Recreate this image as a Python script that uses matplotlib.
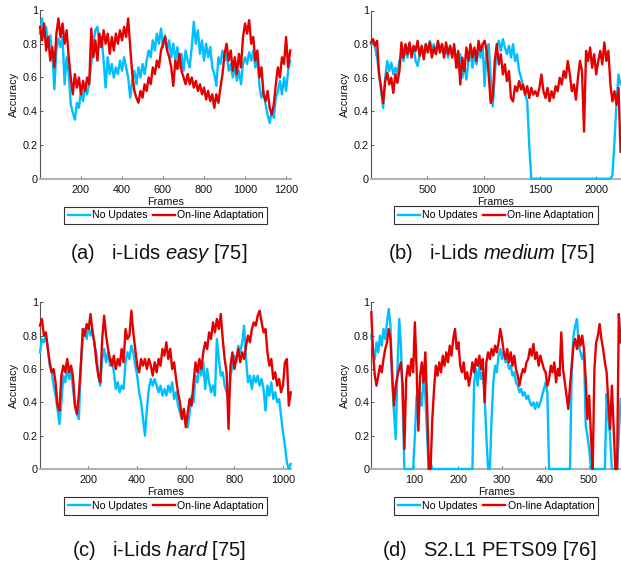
import numpy as np
import matplotlib
matplotlib.use("Agg")
import matplotlib.pyplot as plt

plt.rcParams["font.family"] = ["Liberation Sans", "DejaVu Sans"]
plt.rcParams["mathtext.fontset"] = "custom"
plt.rcParams["mathtext.rm"] = "Liberation Sans"
plt.rcParams["mathtext.it"] = "Liberation Sans:italic"
plt.rcParams["mathtext.bf"] = "Liberation Sans:bold"

# ---------------- data ----------------
SERIES_NAMES = ["No Updates", "On-line Adaptation"]
Y_TICKS = [0, 0.2, 0.4, 0.6, 0.8, 1.0]
Y_TICK_LABELS = ["0", "0.2", "0.4", "0.6", "0.8", "1"]

# (a) i-Lids easy: sampled every 10 frames, frames 1..1221
A_LAST_FRAME = 1221
A_XTICKS = [200, 400, 600, 800, 1000, 1200]
A_NO_UPDATES = [
    0.86, 0.95, 0.84, 0.90, 0.78, 0.85, 0.74, 0.53, 0.76, 0.83,
    0.78, 0.84, 0.56, 0.72, 0.62, 0.44, 0.39, 0.35, 0.45, 0.42,
    0.52, 0.46, 0.55, 0.50, 0.57, 0.68, 0.80, 0.88, 0.90, 0.78,
    0.84, 0.70, 0.54, 0.72, 0.62, 0.68, 0.60, 0.66, 0.62, 0.70,
    0.64, 0.72, 0.66, 0.60, 0.48, 0.58, 0.64, 0.56, 0.66, 0.60,
    0.68, 0.62, 0.70, 0.76, 0.72, 0.82, 0.76, 0.86, 0.80, 0.89,
    0.78, 0.85, 0.76, 0.82, 0.72, 0.80, 0.70, 0.78, 0.66, 0.74,
    0.64, 0.76, 0.70, 0.66, 0.78, 0.93, 0.80, 0.88, 0.74, 0.82,
    0.70, 0.80, 0.72, 0.78, 0.66, 0.62, 0.55, 0.72, 0.68, 0.76,
    0.70, 0.74, 0.64, 0.68, 0.60, 0.66, 0.58, 0.64, 0.56, 0.68,
    0.72, 0.68, 0.75, 0.70, 0.76, 0.66, 0.72, 0.55, 0.48, 0.52,
    0.44, 0.38, 0.33, 0.40, 0.36, 0.48, 0.52, 0.58, 0.50, 0.60,
    0.52, 0.64, 0.70,
]
A_ONLINE = [
    0.90, 0.82, 0.92, 0.76, 0.84, 0.70, 0.78, 0.66, 0.86, 0.95,
    0.84, 0.92, 0.80, 0.88, 0.72, 0.60, 0.50, 0.62, 0.54, 0.60,
    0.50, 0.58, 0.52, 0.60, 0.56, 0.89, 0.72, 0.82, 0.70, 0.86,
    0.78, 0.88, 0.80, 0.86, 0.74, 0.84, 0.76, 0.86, 0.80, 0.88,
    0.82, 0.90, 0.84, 0.95, 0.78, 0.62, 0.52, 0.48, 0.45, 0.52,
    0.48, 0.56, 0.52, 0.60, 0.56, 0.66, 0.62, 0.70, 0.66, 0.76,
    0.80, 0.84, 0.76, 0.72, 0.66, 0.55, 0.70, 0.65, 0.74, 0.64,
    0.60, 0.56, 0.62, 0.56, 0.60, 0.54, 0.58, 0.52, 0.56, 0.50,
    0.54, 0.47, 0.52, 0.46, 0.50, 0.42, 0.50, 0.45, 0.54, 0.62,
    0.74, 0.80, 0.70, 0.76, 0.64, 0.72, 0.62, 0.74, 0.66, 0.84,
    0.92, 0.86, 0.94, 0.80, 0.84, 0.70, 0.76, 0.60, 0.66, 0.50,
    0.46, 0.52, 0.42, 0.38, 0.44, 0.56, 0.66, 0.60, 0.72, 0.68,
    0.84, 0.66, 0.76,
]

# (b) i-Lids medium: sampled every 18 frames, frames 1..2215
B_LAST_FRAME = 2215
B_XTICKS = [500, 1000, 1500, 2000]
B_NO_UPDATES = [
    0.80, 0.82, 0.78, 0.72, 0.62, 0.52, 0.42, 0.60, 0.70, 0.64,
    0.69, 0.62, 0.66, 0.62, 0.70, 0.74, 0.70, 0.78, 0.72, 0.80,
    0.74, 0.78, 0.70, 0.67, 0.74, 0.78, 0.73, 0.80, 0.76, 0.82,
    0.77, 0.80, 0.75, 0.81, 0.76, 0.80, 0.74, 0.78, 0.72, 0.79,
    0.74, 0.78, 0.72, 0.66, 0.74, 0.60, 0.68, 0.59, 0.70, 0.76,
    0.66, 0.74, 0.68, 0.78, 0.72, 0.80, 0.55, 0.78, 0.80, 0.60,
    0.43, 0.62, 0.78, 0.82, 0.76, 0.83, 0.78, 0.74, 0.79, 0.72,
    0.80, 0.70, 0.74, 0.64, 0.60, 0.54, 0.50, 0.46, 0.20, 0.00,
    0.00, 0.00, 0.00, 0.00, 0.00, 0.00, 0.00, 0.00, 0.00, 0.00,
    0.00, 0.00, 0.00, 0.00, 0.00, 0.00, 0.00, 0.00, 0.00, 0.00,
    0.00, 0.00, 0.00, 0.00, 0.00, 0.00, 0.00, 0.00, 0.00, 0.00,
    0.00, 0.00, 0.00, 0.00, 0.00, 0.00, 0.00, 0.00, 0.00, 0.02,
    0.22, 0.45, 0.62, 0.56,
]
B_ONLINE = [
    0.81, 0.83, 0.79, 0.82, 0.62, 0.54, 0.45, 0.58, 0.63, 0.56,
    0.60, 0.51, 0.62, 0.57, 0.64, 0.81, 0.72, 0.80, 0.74, 0.81,
    0.72, 0.79, 0.76, 0.82, 0.73, 0.79, 0.71, 0.80, 0.75, 0.81,
    0.72, 0.78, 0.74, 0.82, 0.75, 0.80, 0.72, 0.81, 0.74, 0.79,
    0.72, 0.80, 0.66, 0.76, 0.56, 0.72, 0.64, 0.78, 0.70, 0.80,
    0.72, 0.78, 0.70, 0.82, 0.76, 0.80, 0.82, 0.76, 0.62, 0.45,
    0.48, 0.70, 0.80, 0.68, 0.74, 0.62, 0.68, 0.58, 0.64, 0.48,
    0.46, 0.55, 0.52, 0.58, 0.53, 0.56, 0.50, 0.55, 0.48, 0.54,
    0.50, 0.52, 0.49, 0.54, 0.62, 0.52, 0.48, 0.54, 0.46, 0.52,
    0.48, 0.55, 0.52, 0.60, 0.56, 0.64, 0.60, 0.70, 0.62, 0.52,
    0.56, 0.47, 0.60, 0.70, 0.64, 0.28, 0.76, 0.70, 0.78, 0.66,
    0.74, 0.62, 0.70, 0.76, 0.68, 0.81, 0.70, 0.76, 0.56, 0.46,
    0.52, 0.44, 0.54, 0.16,
]

# (c) i-Lids hard: sampled every 8 frames, frames 1..1033
C_LAST_FRAME = 1033
C_XTICKS = [200, 400, 600, 800, 1000]
C_NO_UPDATES = [
    0.70, 0.78, 0.76, 0.80, 0.74, 0.62, 0.58, 0.50, 0.44, 0.36,
    0.27, 0.40, 0.56, 0.52, 0.60, 0.54, 0.58, 0.48, 0.38, 0.33,
    0.30, 0.62, 0.78, 0.84, 0.78, 0.86, 0.80, 0.84, 0.74, 0.70,
    0.56, 0.50, 0.66, 0.72, 0.64, 0.70, 0.62, 0.66, 0.58, 0.48,
    0.52, 0.46, 0.50, 0.48, 0.64, 0.70, 0.66, 0.74, 0.70, 0.62,
    0.56, 0.46, 0.40, 0.30, 0.20, 0.36, 0.48, 0.54, 0.50, 0.54,
    0.50, 0.46, 0.50, 0.44, 0.48, 0.44, 0.50, 0.46, 0.52, 0.42,
    0.46, 0.38, 0.34, 0.30, 0.36, 0.28, 0.25, 0.34, 0.44, 0.40,
    0.56, 0.52, 0.62, 0.56, 0.64, 0.48, 0.60, 0.52, 0.46, 0.50,
    0.44, 0.78, 0.66, 0.56, 0.58, 0.50, 0.46, 0.40, 0.56, 0.62,
    0.68, 0.64, 0.74, 0.70, 0.76, 0.86, 0.66, 0.52, 0.56, 0.48,
    0.56, 0.52, 0.56, 0.50, 0.54, 0.48, 0.35, 0.50, 0.44, 0.52,
    0.42, 0.46, 0.40, 0.42, 0.32, 0.22, 0.14, 0.04, 0.00, 0.03,
]
C_ONLINE = [
    0.86, 0.90, 0.80, 0.82, 0.72, 0.64, 0.58, 0.60, 0.52, 0.38,
    0.35, 0.56, 0.62, 0.58, 0.66, 0.58, 0.62, 0.55, 0.38, 0.33,
    0.45, 0.62, 0.84, 0.80, 0.87, 0.84, 0.93, 0.82, 0.76, 0.64,
    0.56, 0.52, 0.78, 0.92, 0.80, 0.72, 0.66, 0.62, 0.68, 0.60,
    0.66, 0.62, 0.72, 0.64, 0.84, 0.78, 0.80, 0.95, 0.82, 0.72,
    0.62, 0.58, 0.66, 0.62, 0.66, 0.60, 0.66, 0.62, 0.56, 0.64,
    0.58, 0.66, 0.62, 0.72, 0.68, 0.76, 0.66, 0.72, 0.60, 0.64,
    0.54, 0.46, 0.40, 0.30, 0.36, 0.25, 0.34, 0.42, 0.38, 0.52,
    0.64, 0.58, 0.66, 0.60, 0.70, 0.76, 0.72, 0.82, 0.78, 0.88,
    0.82, 0.90, 0.84, 0.93, 0.78, 0.66, 0.58, 0.24, 0.62, 0.70,
    0.60, 0.66, 0.72, 0.64, 0.70, 0.66, 0.74, 0.80, 0.76, 0.84,
    0.88, 0.86, 0.92, 0.95, 0.88, 0.82, 0.84, 0.70, 0.62, 0.66,
    0.54, 0.58, 0.50, 0.54, 0.46, 0.50, 0.64, 0.66, 0.38, 0.46,
]

# (d) S2.L1 PETS09: sampled every 4 frames, frames 1..573
D_LAST_FRAME = 573
D_XTICKS = [100, 200, 300, 400, 500]
D_NO_UPDATES = [
    0.80, 0.72, 0.66, 0.76, 0.70, 0.80, 0.74, 0.84, 0.78, 0.88,
    0.96, 0.86, 0.52, 0.34, 0.18, 0.60, 0.90, 0.74, 0.40, 0.00,
    0.00, 0.00, 0.00, 0.00, 0.00, 0.20, 0.44, 0.28, 0.46, 0.38,
    0.56, 0.44, 0.20, 0.00, 0.04, 0.00, 0.00, 0.00, 0.00, 0.00,
    0.00, 0.00, 0.00, 0.00, 0.00, 0.00, 0.00, 0.00, 0.00, 0.00,
    0.00, 0.00, 0.00, 0.00, 0.00, 0.00, 0.00, 0.00, 0.00, 0.52,
    0.60, 0.50, 0.62, 0.54, 0.58, 0.44, 0.20, 0.00, 0.00, 0.30,
    0.52, 0.62, 0.58, 0.68, 0.72, 0.66, 0.70, 0.64, 0.66, 0.60,
    0.62, 0.56, 0.58, 0.52, 0.50, 0.46, 0.48, 0.44, 0.46, 0.42,
    0.44, 0.40, 0.38, 0.40, 0.36, 0.40, 0.37, 0.40, 0.44, 0.48,
    0.52, 0.46, 0.00, 0.00, 0.00, 0.00, 0.00, 0.00, 0.00, 0.00,
    0.00, 0.00, 0.00, 0.00, 0.00, 0.62, 0.80, 0.86, 0.90, 0.74,
    0.70, 0.66, 0.70, 0.26, 0.20, 0.12, 0.00, 0.00, 0.00, 0.00,
    0.00, 0.00, 0.00, 0.00, 0.00, 0.45, 0.30, 0.20, 0.00, 0.00,
    0.00, 0.00, 0.20, 0.42,
]
D_ONLINE = [
    0.94, 0.70, 0.56, 0.50, 0.56, 0.62, 0.58, 0.66, 0.72, 0.76,
    0.84, 0.78, 0.56, 0.38, 0.50, 0.56, 0.60, 0.64, 0.50, 0.12,
    0.54, 0.62, 0.56, 0.66, 0.58, 0.88, 0.60, 0.23, 0.56, 0.64,
    0.52, 0.70, 0.40, 0.00, 0.00, 0.30, 0.48, 0.62, 0.56, 0.64,
    0.58, 0.68, 0.62, 0.70, 0.64, 0.74, 0.68, 0.78, 0.84, 0.72,
    0.76, 0.62, 0.58, 0.64, 0.54, 0.58, 0.50, 0.56, 0.64, 0.58,
    0.66, 0.62, 0.68, 0.60, 0.66, 0.40, 0.64, 0.70, 0.66, 0.72,
    0.68, 0.74, 0.70, 0.76, 0.84, 0.78, 0.70, 0.66, 0.72, 0.64,
    0.70, 0.62, 0.68, 0.60, 0.56, 0.50, 0.56, 0.60, 0.58, 0.64,
    0.66, 0.72, 0.68, 0.75, 0.66, 0.70, 0.62, 0.68, 0.64, 0.60,
    0.58, 0.50, 0.54, 0.62, 0.58, 0.64, 0.52, 0.60, 0.56, 0.82,
    0.60, 0.52, 0.44, 0.36, 0.50, 0.62, 0.74, 0.78, 0.72, 0.80,
    0.74, 0.80, 0.72, 0.54, 0.30, 0.44, 0.20, 0.00, 0.60, 0.76,
    0.80, 0.87, 0.78, 0.72, 0.64, 0.58, 0.40, 0.24, 0.50, 0.26,
    0.00, 0.00, 0.93, 0.76,
]

CAPTION_LABELS = ["(a)", "(b)", "(c)", "(d)"]
CAPTION_TITLES = [
    r"i-Lids $\mathit{easy}$ [75]",
    r"i-Lids $\mathit{medium}$ [75]",
    r"i-Lids $\mathit{hard}$ [75]",
    "S2.L1 PETS09 [76]",
]

# ---------------- style / layout ----------------
BLUE = "#00BFFF"
RED = "#E50000"
W, H = 621, 561
SMALL = 7.8
LEGEND_SIZE = 7.6

fig = plt.figure(figsize=(W / 100, H / 100), dpi=100)
fig.patch.set_facecolor("white")


def px_rect(l, t, r, b):
    return [l / W, 1 - b / H, (r - l) / W, (b - t) / H]


panels = [
    dict(rect=(40, 10, 291, 178.7), last=A_LAST_FRAME, blue=A_NO_UPDATES,
         red=A_ONLINE, xlim=(1, 1225), xticks=A_XTICKS, leg_y=-0.2175,
         cap_x=159, cap_y=259),
    dict(rect=(371, 10.5, 621, 178.7), last=B_LAST_FRAME, blue=B_NO_UPDATES,
         red=B_ONLINE, xlim=(1, 2219), xticks=B_XTICKS, leg_y=-0.2175,
         cap_x=491, cap_y=259),
    dict(rect=(40, 302.3, 291, 469), last=C_LAST_FRAME, blue=C_NO_UPDATES,
         red=C_ONLINE, xlim=(1, 1034), xticks=C_XTICKS, leg_y=-0.223,
         cap_x=159, cap_y=556),
    dict(rect=(371.3, 302.3, 621, 469), last=D_LAST_FRAME, blue=D_NO_UPDATES,
         red=D_ONLINE, xlim=(1, 574), xticks=D_XTICKS, leg_y=-0.223,
         cap_x=489, cap_y=556),
]

for i, p in enumerate(panels):
    ax = fig.add_axes(px_rect(*p["rect"]))
    fb = np.linspace(1, p["last"], len(p["blue"]))
    fr = np.linspace(1, p["last"], len(p["red"]))
    l1, = ax.plot(fb, p["blue"], color=BLUE, lw=1.7, zorder=3, clip_on=False)
    l2, = ax.plot(fr, p["red"], color=RED, lw=1.7, zorder=3.1, clip_on=False)
    ax.set_xlim(*p["xlim"])
    ax.set_ylim(0, 1)
    ax.set_xticks(p["xticks"])
    ax.set_xticklabels([str(t) for t in p["xticks"]])
    ax.set_yticks(Y_TICKS)
    ax.set_yticklabels(Y_TICK_LABELS)
    for s in ("top", "right"):
        ax.spines[s].set_visible(False)
    ax.spines["left"].set_color("#555555")
    ax.spines["left"].set_linewidth(0.8)
    ax.spines["bottom"].set_color("#b0b0b0")
    ax.spines["bottom"].set_linewidth(1.5)
    ax.tick_params(axis="both", direction="in", length=2.5, width=0.7,
                   color="#555555", labelsize=SMALL, labelcolor="#111111")
    ax.tick_params(axis="x", pad=4.2)
    ax.tick_params(axis="y", pad=1.5)
    ax.set_xlabel("Frames", fontsize=SMALL, color="#111111")
    ax.xaxis.set_label_coords(0.5, -0.106)
    ax.set_ylabel("Accuracy", fontsize=SMALL, color="#111111")
    ax.yaxis.set_label_coords(-0.084, 0.5)
    leg = ax.legend([l1, l2], SERIES_NAMES, loc="center",
                    bbox_to_anchor=(0.5, p["leg_y"]), ncol=2,
                    fontsize=LEGEND_SIZE, frameon=True, fancybox=False,
                    framealpha=1, edgecolor="#333333", handlelength=2.1,
                    handletextpad=0.2, columnspacing=0.5, borderpad=0.36,
                    borderaxespad=0)
    leg.get_frame().set_linewidth(0.8)
    fig.text(p["cap_x"] / W, 1 - p["cap_y"] / H,
             CAPTION_LABELS[i] + r"$\quad$" + CAPTION_TITLES[i],
             ha="center", va="baseline", fontsize=14.5, color="#111111")

fig.savefig("out.png", dpi=100)
